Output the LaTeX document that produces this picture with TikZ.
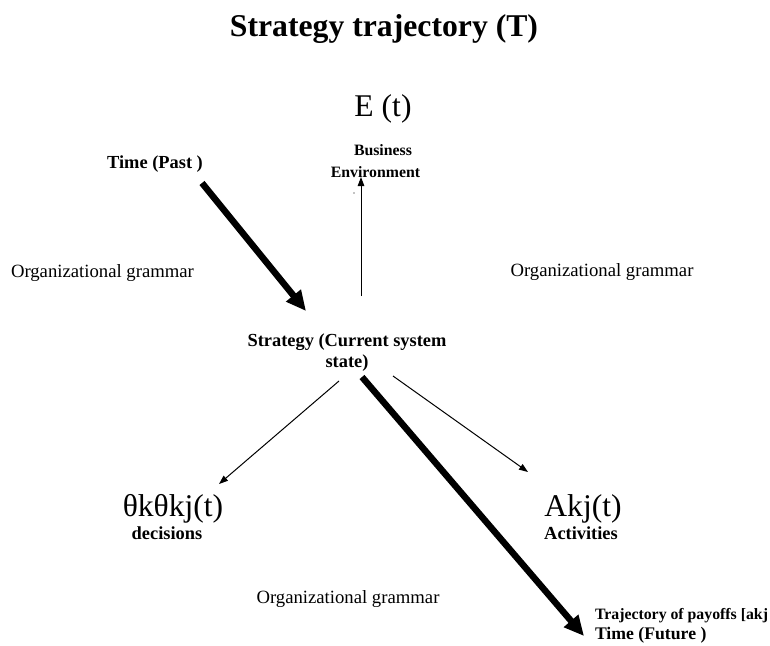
\documentclass[tikz,border=0pt]{standalone}
\usepackage{fontspec}
\setmainfont{Liberation Serif}
\usetikzlibrary{arrows.meta}
\begin{document}
\begin{tikzpicture}[x=1pt,y=-1pt,
  every node/.style={inner sep=0pt,outer sep=0pt,anchor=base},
  lbl/.style={font=\fontsize{18.4}{21}\selectfont\bfseries},
  smalllbl/.style={font=\fontsize{15.8}{18}\selectfont\bfseries},
  big/.style={font=\fontsize{31.6}{34}\selectfont},
  gram/.style={font=\fontsize{18.7}{21}\selectfont},
  thin/.style={line width=1pt,-{Triangle[length=9pt,width=6.5pt]}},
  heavy/.style={line width=6.5pt,-{Triangle[length=20pt,width=18pt]}}]
\useasboundingbox (0,0) rectangle (770,645);
% title
\node[font=\fontsize{31.7}{34}\selectfont\bfseries] (title) at (384,36) {Strategy trajectory (T)};
% environment
\node[big] (env) at (383,116) {E (t)};
\node[smalllbl] (bus) at (383,155) {Business};
\node[smalllbl] (envlbl) at (375.5,177) {Environment};
\coordinate (busin) at (361,177);
\fill (354,193) circle (0.6);
% past
\node[lbl] (past) at (155,168) {Time (Past )};
\coordinate (pastout) at (202,183);
% strategy
\node[lbl] (strat) at (347,346) {Strategy (Current system};
\node[lbl] (strat2) at (347,367) {state)};
\coordinate (stratup) at (361,296);
\coordinate (stratin) at (306,311);
\coordinate (stratl) at (339,381);
\coordinate (stratm) at (362,377);
\coordinate (stratr) at (393,376);
% grammar labels
\node[gram,anchor=base west] (gl) at (11,277) {Organizational grammar};
\node[gram] (gr) at (602,276) {Organizational grammar};
\node[gram] (gb) at (348,603) {Organizational grammar};
% decisions
\node[big] (theta) at (173,516) {θkθkj(t)};
\node[lbl] (dec) at (167,539) {decisions};
\coordinate (thetain) at (219,484);
% activities
\node[big] (akj) at (583,516) {Akj(t)};
\node[lbl] (act) at (581,539) {Activities};
\coordinate (akjin) at (528,472);
% future
\node[smalllbl,anchor=base west] (traj) at (595,619) {Trajectory of payoffs [akj};
\node[lbl,font=\fontsize{17.7}{20}\selectfont\bfseries,anchor=base west] (fut) at (595,639) {Time (Future )};
\coordinate (futin) at (584,636);
% connectors
\draw[thin] (stratup) -- (busin);
\draw[heavy] (pastout) -- (stratin);
\draw[thin] (stratl) -- (thetain);
\draw[thin] (stratr) -- (akjin);
\draw[heavy] (stratm) -- (futin);
\end{tikzpicture}
\end{document}
